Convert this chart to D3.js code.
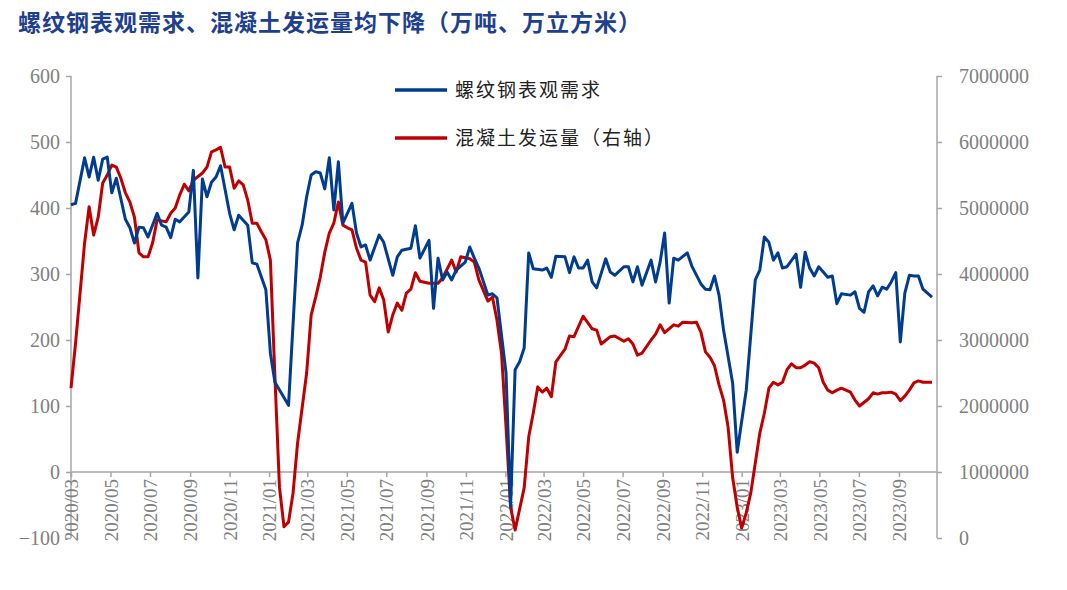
<!DOCTYPE html>
<html><head><meta charset="utf-8">
<script src="https://cdn.jsdelivr.net/npm/d3@7"></script>
<style>body{margin:0;background:#fff} .ser{font-family:"Liberation Serif","DejaVu Serif",serif !important}</style></head>
<body><svg id="c" width="1067" height="590"></svg>
<script>
const title = "螺纹钢表观需求、混凝土发运量均下降（万吨、万立方米）";
const seriesNames = ["螺纹钢表观需求", "混凝土发运量（右轴）"];
const leftTicks = [-100,0,100,200,300,400,500,600];
const rightTicks = [0,1000000,2000000,3000000,4000000,5000000,6000000,7000000];
// weeks since 2020-03-01
const rebarWeeks = [0,1,3,4,5,6,7,8,9,10,12,13,14,15,16,17,19,20,21,22,23,24,26,27,28,29,30,31,32,33,35,36,37,39,40,41,43,44,45,48,50,51,52,53,54,55,56,57,58,59,60,62,63,64,65,66,68,69,71,72,73,75,76,77,79,80,81,82,83,84,85,87,88,89,90,92,93,94,96,97,98,99,100,101,102,104,105,106,107,109,110,111,112,113,114,115,116,118,119,120,122,123,124,125,126,128,129,130,131,132,133,134,136,137,139,140,141,142,143,144,146,147,149,151,152,153,154,155,156,157,158,160,161,162,163,164,165,166,167,168,169,170,172,173,174,175,176,177,178,179,180,181,182,183,184,185,186,187,188,189,190];
const rebarValues = [405,407,476,447,477,442,474,477,423,445,383,370,347,371,370,356,392,374,371,355,383,379,394,457,294,444,417,439,447,464,392,367,389,374,317,315,276,180,136,101,347,374,417,450,455,453,429,476,397,470,377,407,362,341,344,321,359,348,298,326,336,339,373,324,351,248,324,291,303,291,306,318,341,324,309,268,270,264,150,-53,155,167,188,332,308,306,309,295,327,326,302,326,309,309,321,288,279,323,303,298,311,311,288,311,283,321,288,318,362,256,324,321,332,312,285,277,276,297,268,215,135,30,124,291,306,356,348,321,332,309,311,330,280,333,309,297,311,303,295,297,255,270,268,273,248,242,273,282,267,280,277,288,302,197,271,298,297,297,277,271,265];
const concreteWeeks = [0,1,2,3,4,5,6,7,8,9,10,11,12,13,14,15,16,17,18,19,21,22,23,24,25,26,27,29,30,31,32,33,34,35,36,37,38,39,40,41,42,43,44,45,46,47,48,49,50,52,53,54,55,56,57,58,59,60,61,62,63,64,65,66,67,68,69,70,71,72,73,74,75,76,77,79,81,82,84,85,86,88,89,90,92,93,94,95,96,97,98,100,101,102,103,104,105,106,107,109,110,111,113,115,116,117,119,120,122,123,124,125,126,128,129,130,131,133,134,135,137,138,139,140,141,142,143,144,145,146,147,148,149,150,152,153,154,155,156,157,158,159,160,161,162,163,164,165,166,167,168,169,170,172,173,174,176,177,178,179,180,181,182,183,184,185,186,187,188,190];
const concreteValues = [2270000,2950000,3710000,4470000,5020000,4590000,4860000,5380000,5500000,5650000,5620000,5450000,5230000,5090000,4860000,4320000,4260000,4260000,4470000,4820000,4790000,4920000,5000000,5200000,5360000,5260000,5420000,5530000,5620000,5850000,5880000,5920000,5620000,5620000,5300000,5410000,5350000,5120000,4770000,4770000,4640000,4520000,4210000,2440000,770000,170000,240000,680000,1440000,2500000,3380000,3650000,3950000,4330000,4620000,4770000,5090000,4740000,4700000,4670000,4390000,4210000,4180000,3680000,3580000,3790000,3610000,3120000,3380000,3560000,3450000,3710000,3770000,4020000,3890000,3860000,3860000,3940000,4210000,4030000,4260000,4230000,4180000,3910000,3590000,3650000,3300000,2800000,1680000,470000,120000,760000,1530000,1890000,2290000,2210000,2270000,2140000,2670000,2860000,3060000,3050000,3360000,3170000,3150000,2940000,3050000,3060000,2980000,3020000,2940000,2770000,2800000,3000000,3090000,3230000,3110000,3230000,3210000,3270000,3260000,3270000,3120000,2820000,2740000,2610000,2320000,2090000,1680000,920000,470000,150000,380000,680000,1590000,1890000,2270000,2360000,2320000,2360000,2550000,2640000,2580000,2580000,2620000,2670000,2650000,2580000,2360000,2240000,2200000,2240000,2270000,2210000,2090000,2000000,2110000,2200000,2180000,2200000,2200000,2210000,2180000,2080000,2150000,2240000,2350000,2380000,2360000,2360000];

const svg = d3.select("#c");
const cjk = "'Noto Sans CJK SC',sans-serif";
const blue = "#003c8f", red = "#c00000", grey = "#a6a6a6", tickTxt = "#808080";
const L = 71, R = 937, T = 76, B = 538;
const start = new Date(2020,2,1);
const wk = w => d3.timeDay.offset(start, w*7);
const x = d3.scaleTime().domain([start, new Date(2023,8,1)]).range([L, 899]);
const yL = d3.scaleLinear().domain([-100,600]).range([B,T]);
const yR = d3.scaleLinear().domain([0,7000000]).range([B,T]);

svg.append("text").attr("x",18).attr("y",31).style("font-family",cjk).attr("font-weight","bold")
  .attr("font-size",23).attr("fill","#1f3f8f").attr("letter-spacing",1).text(title);

const styleAxis = (g, fs) => {
  g.attr("font-family", null);
  g.selectAll("path,line").attr("stroke",grey).attr("stroke-width",1.5);
  g.selectAll("text").attr("class","ser").attr("font-size",fs).attr("fill",tickTxt);
};

const gl = svg.append("g").attr("transform",`translate(${L},0)`)
  .call(d3.axisLeft(yL).tickValues(leftTicks).tickSize(5).tickFormat(d3.format("d")));
styleAxis(gl, 20);
gl.select(".domain").attr("d",`M0,${T}V${B}`);
gl.selectAll("text").attr("dx",-3);

const gr = svg.append("g").attr("transform",`translate(${R},0)`)
  .call(d3.axisRight(yR).tickValues(rightTicks).tickSize(5).tickFormat(d3.format("d")));
styleAxis(gr, 20);
gr.select(".domain").attr("d",`M0,${T}V${B}`);
gr.selectAll("text").attr("dx",14);

const months = d3.timeMonth.every(2).range(new Date(2020,2,1), new Date(2023,9,2));
const gx = svg.append("g").attr("transform",`translate(0,${yL(0)})`)
  .call(d3.axisBottom(x).tickValues(months).tickSize(5).tickFormat(d3.timeFormat("%Y/%m")));
styleAxis(gx, 19);
gx.select(".domain").attr("d",`M${L},0H${R}`);
gx.selectAll("text").attr("transform","rotate(-90)").attr("text-anchor","end")
  .attr("x",-7).attr("y",0).attr("dy","0.35em");

const lineL = d3.line().x(d=>x(wk(d[0]))).y(d=>yL(d[1]));
const lineR = d3.line().x(d=>x(wk(d[0]))).y(d=>yR(d[1]));
svg.append("path").datum(d3.zip(concreteWeeks, concreteValues)).attr("d",lineR)
  .attr("fill","none").attr("stroke",red).attr("stroke-width",3).attr("stroke-linejoin","round");
svg.append("path").datum(d3.zip(rebarWeeks, rebarValues)).attr("d",lineL)
  .attr("fill","none").attr("stroke",blue).attr("stroke-width",3).attr("stroke-linejoin","round");

[[blue,90],[red,138]].forEach(([c,y],i)=>{
  svg.append("line").attr("x1",395).attr("x2",447).attr("y1",y).attr("y2",y).attr("stroke",c).attr("stroke-width",3.5);
  svg.append("text").attr("x",455).attr("y",y+7).style("font-family",cjk).attr("font-size",19)
    .attr("fill","#222").attr("letter-spacing",2).text(seriesNames[i]);
});
</script></body></html>
